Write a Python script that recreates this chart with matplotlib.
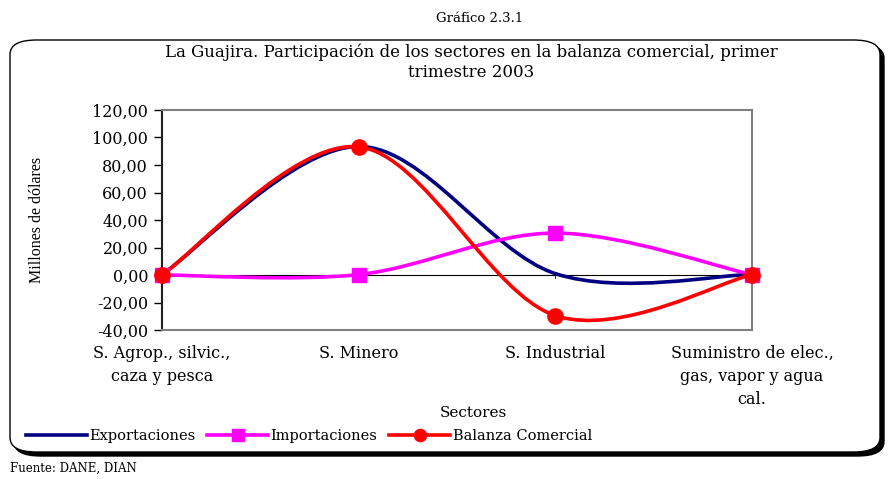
import numpy as np
import matplotlib
matplotlib.use("Agg")
import matplotlib.pyplot as plt
from matplotlib.path import Path
from matplotlib.patches import PathPatch, FancyBboxPatch
from matplotlib.ticker import FuncFormatter

# ------------------------------------------------------------------
# Data (millones de dolares, primer trimestre 2003)
# ------------------------------------------------------------------
sectores = ["S. Agrop., silvic.,\ncaza y pesca", "S. Minero", "S. Industrial",
            "Suministro de elec.,\ngas, vapor y agua\ncal."]
exportaciones = [0.3, 93.5, 1.0, 0.4]
importaciones = [0.0, 0.3, 30.5, 0.2]
balanza = [0.3, 93.2, -29.5, 0.2]

FONT = "DejaVu Serif"
plt.rcParams["font.family"] = FONT


def smooth_path(x, y):
    """Excel-style smoothed line: Catmull-Rom segments as cubic Beziers."""
    pts = np.column_stack([x, y]).astype(float)
    n = len(pts)
    verts = [pts[0]]
    codes = [Path.MOVETO]
    for i in range(n - 1):
        p0 = pts[i - 1] if i > 0 else pts[i]
        p1, p2 = pts[i], pts[i + 1]
        p3 = pts[i + 2] if i + 2 < n else pts[i + 1]
        c1 = p1 + (p2 - p0) / 6.0
        c2 = p2 - (p3 - p1) / 6.0
        verts += [c1, c2, p2]
        codes += [Path.CURVE4] * 3
    return Path(verts, codes)


fig = plt.figure(figsize=(8.88, 4.79), dpi=100)

# outer rounded frame with shadow
W, H = 888.0, 479.0
shadow = FancyBboxPatch((14 / W, 1 - 456 / H), 870 / W, 412 / H,
                        boxstyle="round,pad=0,rounding_size=0.03",
                        transform=fig.transFigure, facecolor="black",
                        edgecolor="black", lw=1, zorder=0)
frame = FancyBboxPatch((10 / W, 1 - 452 / H), 870 / W, 412 / H,
                       boxstyle="round,pad=0,rounding_size=0.03",
                       transform=fig.transFigure, facecolor="white",
                       edgecolor="black", lw=1.0, zorder=0.5)
fig.patches += [shadow, frame]

fig.text(480 / W, 1 - 18 / H, "Gráfico 2.3.1", ha="center", va="center",
         fontsize=9.5)
fig.text(471 / W, 1 - 62 / H,
         "La Guajira. Participación de los sectores en la balanza comercial, primer\ntrimestre 2003",
         ha="center", va="center", fontsize=12, linespacing=1.2)
fig.text(10 / W, 1 - 468 / H, "Fuente: DANE, DIAN", ha="left", va="center",
         fontsize=8.5)

ax = fig.add_axes([162 / W, 1 - 330 / H, 590 / W, 220 / H])
ax.set_zorder(2)
ax.patch.set_alpha(0)

x = np.arange(len(sectores))
series = [
    ("Exportaciones", exportaciones, "#000080", None, 0),
    ("Importaciones", importaciones, "#FF00FF", "s", 10),
    ("Balanza Comercial", balanza, "#FF0000", "o", 11),
]
for label, vals, color, marker, ms in series:
    ax.add_patch(PathPatch(smooth_path(x, vals), fill=False, edgecolor=color,
                           lw=2.6, capstyle="round", joinstyle="round", zorder=3))
    if marker:
        ax.plot(x, vals, linestyle="none", marker=marker, ms=ms, color=color,
                zorder=4, clip_on=False)
    ax.plot([], [], color=color, lw=2.6, marker=marker, ms=ms * 0.8 if ms else 0,
            label=label)

ax.axhline(0, color="black", lw=0.8, zorder=2)
for xi in x[1:-1]:
    ax.plot([xi, xi], [-2.5, 2.5], color="black", lw=0.6, zorder=2)

ax.set_xlim(0, 3)
ax.set_ylim(-40, 120)
ax.set_yticks(np.arange(-40, 121, 20))
ax.yaxis.set_major_formatter(FuncFormatter(lambda v, p: f"{v:.2f}".replace(".", ",")))
ax.tick_params(axis="y", direction="out", length=6, width=1, labelsize=11.5, pad=4)
ax.set_xticks(x)
ax.set_xticklabels(sectores, fontsize=11.5, linespacing=1.45, va="top")
ax.tick_params(axis="x", length=0, pad=11)

for side in ["top", "right", "bottom"]:
    ax.spines[side].set_color("#808080")
    ax.spines[side].set_linewidth(1.5)
ax.spines["left"].set_color("#202020")
ax.spines["left"].set_linewidth(1.5)

ax.set_ylabel("Millones de dólares", fontsize=11.5, family="Liberation Serif")
ax.yaxis.set_label_coords(-0.198, 0.5)
fig.text(473 / W, 1 - 413 / H, "Sectores", ha="center", va="center", fontsize=11)

fig.legend(loc="center left", bbox_to_anchor=(20 / W, 1 - 436 / H), ncol=3,
           frameon=False, fontsize=10.5, handlelength=4.2, handletextpad=0.15,
           columnspacing=0.8, borderaxespad=0)

fig.savefig("out.png", dpi=100)
